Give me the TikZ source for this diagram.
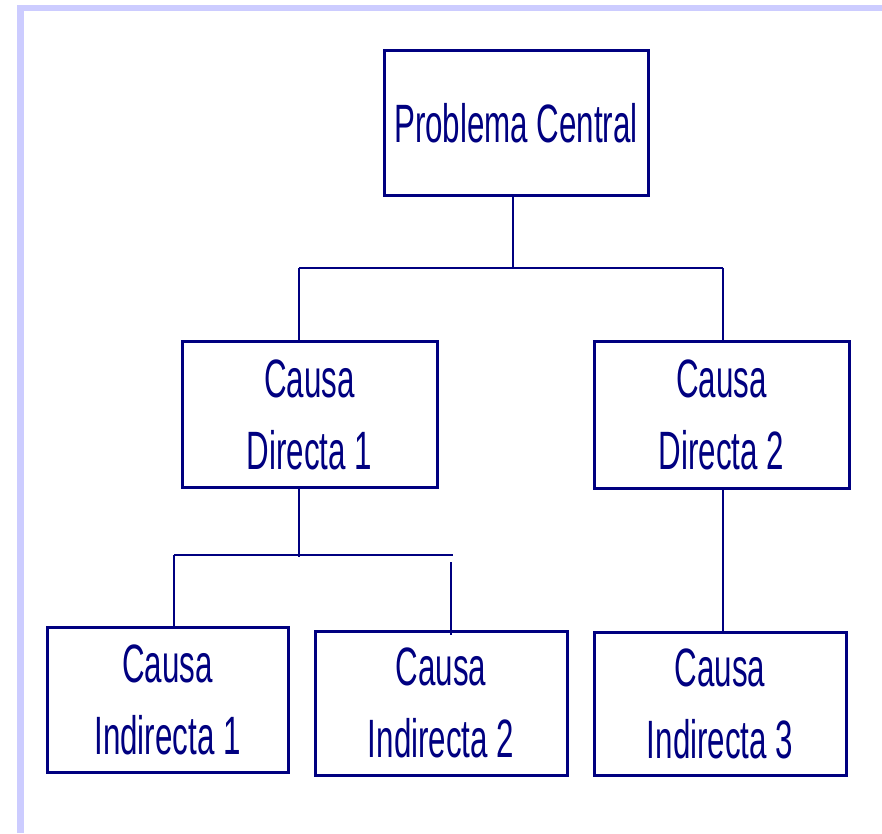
\documentclass[tikz,border=0pt]{standalone}
\usepackage{fontspec}
\setmainfont[FakeStretch=0.58]{Liberation Sans}
\definecolor{navy}{HTML}{000080}
\definecolor{lav}{HTML}{CCCCFF}
\begin{document}
\begin{tikzpicture}[x=1pt,y=1pt,
  box/.style={draw=navy,line width=3pt,rectangle,inner sep=0pt,align=center,
    text=navy,font=\fontsize{54}{72}\selectfont},
  conn/.style={draw=navy,line width=2pt}]
\useasboundingbox (0,0) rectangle (882,833);
\fill[lav] (17,0) rectangle (24,828);
\fill[lav] (17,822) rectangle (882,828);
% boxes (centre x, 833 - centre y)
\node[box,minimum width=264pt,minimum height=145pt] (pc) at (516,709.5) {Problema Central};
\node[box,minimum width=255pt,minimum height=145pt] (cd1) at (309.5,418.5) {Causa\\Directa 1};
\node[box,minimum width=255pt,minimum height=146pt] (cd2) at (721.5,418) {Causa\\Directa 2};
\node[box,minimum width=241pt,minimum height=145pt] (ci1) at (167.5,133.5) {Causa\\Indirecta 1};
\node[box,minimum width=252pt,minimum height=144pt] (ci2) at (441,130) {Causa\\Indirecta 2};
\node[box,minimum width=252pt,minimum height=143pt] (ci3) at (720,129.5) {Causa\\Indirecta 3};
% junction coordinates
\coordinate (top) at (513,565);
\coordinate (hL) at (299,565);
\coordinate (hR) at (723,565);
\coordinate (d1) at (299,276);
\coordinate (bL) at (174,278);
\coordinate (bR) at (453,278);
\coordinate (r1) at (451,271);
\coordinate (r2) at (451,198);
% connectors
\draw[conn] (pc.south -| top) -- (top);
\draw[conn] (hL) -- (hR);
\draw[conn] (hL) -- (hL |- cd1.north);
\draw[conn] (hR) -- (hR |- cd2.north);
\draw[conn] (d1 |- cd1.south) -- (d1);
\draw[conn] (bL) -- (bR);
\draw[conn] (bL) -- (bL |- ci1.north);
\draw[conn] (r1) -- (r2);
\draw[conn] (hR |- cd2.south) -- (hR |- ci3.north);
\end{tikzpicture}
\end{document}
